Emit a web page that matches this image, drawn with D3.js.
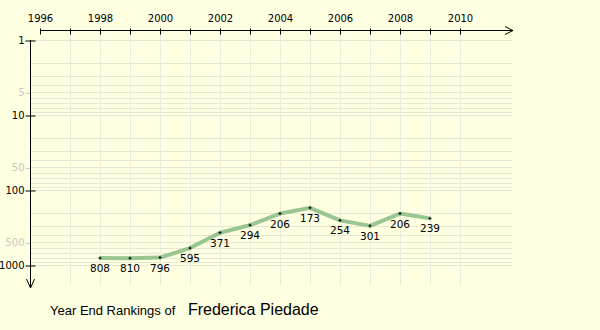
<!DOCTYPE html>
<html>
<head>
<meta charset="utf-8">
<script src="https://cdn.jsdelivr.net/npm/d3@7"></script>
<style>
  html, body { margin: 0; padding: 0; background: #ffffe1; }
  svg { display: block; }
</style>
</head>
<body>
<svg id="chart" width="600" height="330"></svg>
<script>
// Year-end ranking history
const years = [1998, 1999, 2000, 2001, 2002, 2003, 2004, 2005, 2006, 2007, 2008, 2009];
const ranks = [808, 810, 796, 595, 371, 294, 206, 173, 254, 301, 206, 239];
const yearTicks = [1996, 1997, 1998, 1999, 2000, 2001, 2002, 2003, 2004, 2005, 2006, 2007, 2008, 2009, 2010];
const rankTicks = [1, 5, 10, 50, 100, 500, 1000];
const majorRanks = [1, 10, 100, 1000];
const playerName = "Frederica Piedade";

const smallFont = "DejaVu Sans, Verdana, sans-serif";
const svg = d3.select("#chart");
const W = 600, H = 330;

svg.append("rect").attr("width", W).attr("height", H).attr("fill", "#ffffe1");

const x = d3.scaleLinear().domain([1996, 2010]).range([40, 460]);
const y = d3.scaleLog().domain([1, 1000]).range([40, 265]);

const gridRight = 512, gridBottom = 285;

// horizontal grid: 1..9 within each decade
const gridVals = [];
[1, 10, 100].forEach(d => { for (let k = 1; k <= 9; k++) gridVals.push(d * k); });
gridVals.push(1000);
svg.append("g").selectAll("line").data(gridVals).join("line")
  .attr("x1", 30).attr("x2", gridRight)
  .attr("y1", d => Math.round(y(d)) + 0.5).attr("y2", d => Math.round(y(d)) + 0.5)
  .attr("stroke", "#e6e6d2").attr("stroke-width", 1);

// vertical grid per year
svg.append("g").selectAll("line").data(yearTicks.slice(1)).join("line")
  .attr("x1", d => Math.round(x(d)) + 0.5).attr("x2", d => Math.round(x(d)) + 0.5)
  .attr("y1", 30).attr("y2", gridBottom)
  .attr("stroke", "#ececdc").attr("stroke-width", 1);

// top year axis
const xAxis = d3.axisTop(x)
  .tickValues(yearTicks)
  .tickSize(-4)
  .tickPadding(9)
  .tickFormat(d => d % 2 === 0 ? String(d) : "");
const gx = svg.append("g").attr("transform", "translate(0,30.5)").call(xAxis);
gx.select(".domain").remove();
gx.selectAll(".tick line").attr("stroke", "#000").attr("y1", -2);
gx.selectAll(".tick text").attr("fill", "#000")
  .style("font-size", "10px").style("font-family", smallFont);
gx.append("line").attr("x1", 40).attr("x2", 513).attr("y1", 0).attr("y2", 0)
  .attr("stroke", "#000");
gx.append("path").attr("d", "M505,-4L513,0L505,4").attr("fill", "none").attr("stroke", "#000");

// left rank axis
const yAxis = d3.axisLeft(y)
  .tickValues(rankTicks)
  .tickSize(0)
  .tickPadding(6)
  .tickFormat(d => String(d));
const gy = svg.append("g").attr("transform", "translate(30.5,0)").call(yAxis);
gy.select(".domain").remove();
gy.selectAll(".tick text")
  .style("font-size", "10px").style("font-family", smallFont)
  .attr("fill", d => majorRanks.includes(d) ? "#000" : "#c8c8c0");
gy.selectAll(".tick").append("line")
  .attr("x1", -5)
  .attr("x2", d => majorRanks.includes(d) ? 5 : 0)
  .attr("y1", 0.5).attr("y2", 0.5)
  .attr("stroke", d => majorRanks.includes(d) ? "#000" : "#c8c8c0");
gy.append("line").attr("x1", 0).attr("x2", 0).attr("y1", 40).attr("y2", 288).attr("stroke", "#000");
gy.append("path").attr("d", "M-4,279L0,288L4,279").attr("fill", "none").attr("stroke", "#000");

// ranking line
const pts = years.map((yr, i) => ({ year: yr, rank: ranks[i] }));
const line = d3.line().x(d => x(d.year)).y(d => y(d.rank));
svg.append("path").datum(pts).attr("d", line)
  .attr("fill", "none").attr("stroke", "#99c690").attr("stroke-width", 4)
  .attr("stroke-linejoin", "round").attr("stroke-linecap", "butt");

// point markers
const mk = svg.append("g").selectAll("g").data(pts).join("g")
  .attr("transform", d => `translate(${x(d.year)},${y(d.rank)})`);
mk.append("rect").attr("x", -1.5).attr("y", -0.5).attr("width", 3).attr("height", 1).attr("fill", "#000");
mk.append("rect").attr("x", -0.5).attr("y", -1.5).attr("width", 1).attr("height", 3).attr("fill", "#000");

// rank labels under points
svg.append("g").selectAll("text").data(pts).join("text")
  .attr("x", d => x(d.year))
  .attr("y", d => y(d.rank) + 14)
  .attr("text-anchor", "middle")
  .style("font-size", "10.5px").style("font-family", smallFont)
  .attr("fill", "#000")
  .text(d => d.rank);

// title
const title = svg.append("text").attr("x", 50).attr("y", 315)
  .style("font-family", "Liberation Sans, Arial, sans-serif");
title.append("tspan").style("font-size", "13px").attr("fill", "#000").text("Year End Rankings of ");
title.append("tspan").style("font-size", "16px").attr("fill", "#000").attr("dx", 9).text(playerName);
</script>
</body>
</html>
